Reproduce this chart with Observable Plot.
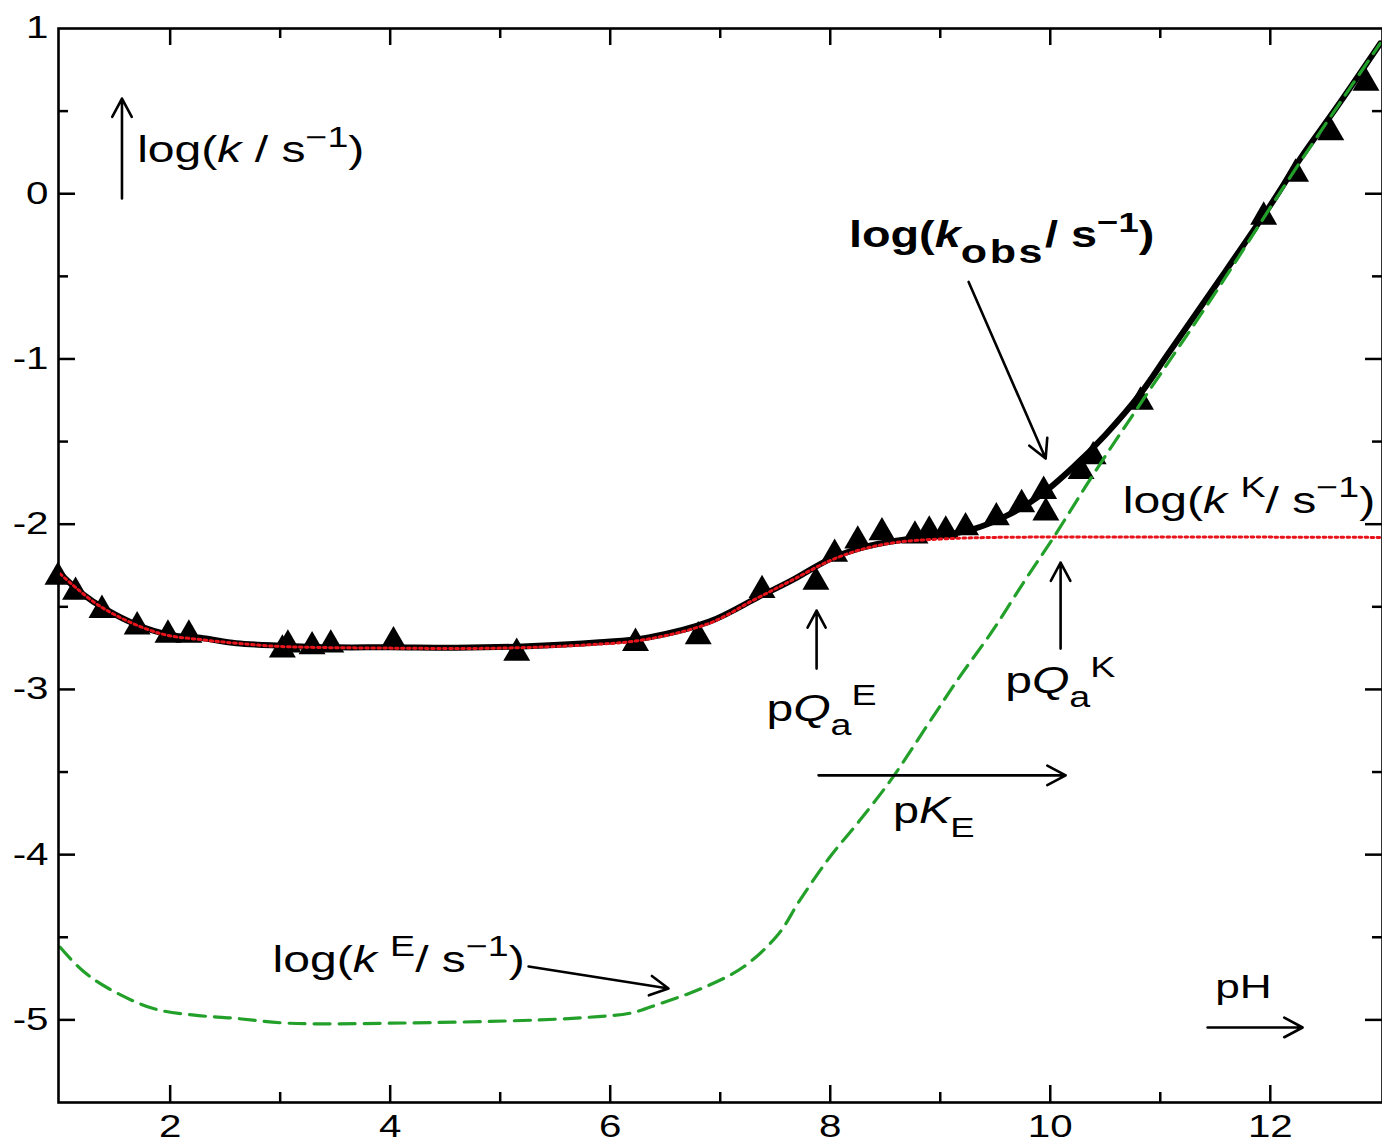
<!DOCTYPE html>
<html><head><meta charset="utf-8">
<script src="https://cdn.jsdelivr.net/npm/d3@7"></script>
<script src="https://cdn.jsdelivr.net/npm/@observablehq/plot@0.6"></script>
<style>html,body{margin:0;padding:0;background:#fff}</style>
</head><body><div id="chart"></div>
<script>
// ---------- data ----------
const obsPH   = [0.98,1.14,1.38,1.70,1.98,2.17,3.02,3.07,3.29,3.46,4.03,5.15,6.23,6.80,7.38,7.87,8.04,8.25,8.47,8.77,8.90,9.05,9.23,9.51,9.74,9.94,9.96,10.28,10.39,10.82,11.94,12.23,12.55,12.87];
const obsLogK = [-2.32,-2.41,-2.52,-2.62,-2.67,-2.67,-2.76,-2.73,-2.74,-2.73,-2.71,-2.78,-2.72,-2.68,-2.40,-2.35,-2.18,-2.10,-2.05,-2.07,-2.04,-2.04,-2.02,-1.96,-1.88,-1.80,-1.93,-1.68,-1.59,-1.26,-0.14,0.12,0.37,0.67];

const fitPH   = [1.0,1.2,1.4,1.7,2.0,2.3,2.6,3.0,3.5,4.0,4.6,5.2,5.9,6.35,6.9,7.35,7.65,8.0,8.3,8.6,9.0,9.3,9.6,9.9,10.2,10.5,10.82,11.07,11.55,12.0,12.28,12.6,13.0];
const fitLogK = [-2.30,-2.42,-2.51,-2.61,-2.67,-2.69,-2.72,-2.735,-2.745,-2.745,-2.748,-2.74,-2.715,-2.685,-2.59,-2.44,-2.34,-2.21,-2.14,-2.10,-2.07,-2.03,-1.95,-1.83,-1.66,-1.46,-1.21,-0.97,-0.51,-0.07,0.22,0.52,0.91];

const kkPH   = [1.0,1.37,1.9,2.3,2.6,3.0,4.0,5.0,5.8,6.3,6.9,7.3,7.65,8.0,8.3,8.6,9.0,9.5,13.0];
const kkLogK = [-2.30,-2.50,-2.66,-2.70,-2.72,-2.74,-2.75,-2.75,-2.73,-2.70,-2.60,-2.46,-2.34,-2.22,-2.15,-2.11,-2.09,-2.08,-2.08];

const kePH   = [1.0,1.2,1.44,1.84,2.2,2.58,3.07,4.0,5.36,5.89,6.18,6.46,6.83,7.21,7.53,7.72,7.99,8.26,8.56,8.87,9.17,9.47,9.77,10.03,10.4,10.82,11.5,12.2,13.0];
const keLogK = [-4.56,-4.70,-4.81,-4.93,-4.97,-4.99,-5.02,-5.02,-5.00,-4.98,-4.96,-4.90,-4.81,-4.68,-4.48,-4.28,-4.02,-3.80,-3.54,-3.23,-2.93,-2.65,-2.34,-2.08,-1.69,-1.27,-0.60,0.12,0.91];

const xMajorTicks = [2,4,6,8,10,12];
const xMinorTicks = [3,5,7,9,11];
const yMajorTicks = [-5,-4,-3,-2,-1,0];
const yMinorTicks = [-4.5,-3.5,-2.5,-1.5,-0.5,0.5];
const xTickLabels = [2,4,6,8,10,12];
const yTickLabels = [1,0,-1,-2,-3,-4,-5];

// annotation texts (plain form + rich parts)
const labelIds   = ["axis","kobs","kK","pQaE","pQaK","pKE","kE","pH"];
const labelText  = ["log(k / s−1)","log(kobs/ s−1)","log(k K/ s−1)","pQaE","pQaK","pKE","log(k E/ s−1)","pH"];
const labelPH    = [1.70, 8.17, 10.66, 7.42, 9.59, 8.57, 2.93, 11.50];
const labelLogK  = [0.19, -0.324, -1.93, -3.19, -3.02, -3.81, -4.71, -4.865];
const labelParts = {
  axis: [["log("],["k","i"],[" / s"],["−1","sup"],[")"]],
  kobs: [["log("],["k","i"],["obs","subL"],["/ s"],["−1","sup"],[")"]],
  kK:   [["log("],["k","i"],[" "],["K","sup"],["/ s"],["−1","sup"],[")"]],
  pQaE: [["p"],["Q","i"],["a","sub"],["E","sup"]],
  pQaK: [["p"],["Q","i"],["a","sub"],["K","sup"]],
  pKE:  [["p"],["K","i"],["E","sub"]],
  kE:   [["log("],["k","i"],[" "],["E","sup"],["/ s"],["−1","sup"],[")"]],
  pH:   null
};

// annotation arrows (from -> to)
const arrowX1 = [1.562, 9.258, 7.876, 10.094, 7.894, 5.258, 11.43];
const arrowY1 = [-0.029, -0.534, -2.874, -2.753, -3.520, -4.677, -5.046];
const arrowX2 = [1.562, 9.958, 7.876, 10.094, 10.14, 6.530, 12.294];
const arrowY2 = [0.576, -1.603, -2.523, -2.232, -3.520, -4.810, -5.046];

// ---------- styles / layout ----------
const W = 1382, H = 1146, ML = 58, MR = 0, MT = 28, MB = 44;
const PW = W - ML - MR, PHt = H - MT - MB;
const SX = 1.3; // horizontal glyph stretch of the reference lettering
const FONT = "'Liberation Sans', Arial, Helvetica, sans-serif";
const labelStyle = {axis:{size:37}, kobs:{size:36,bold:true}, kK:{size:37}, pQaE:{size:37}, pQaK:{size:37}, pKE:{size:36}, kE:{size:37}, pH:{size:34}};

// ---------- tables ----------
const obs = obsPH.map((p,i)=>({pH:p, v:obsLogK[i]}));
const fit = fitPH.map((p,i)=>({pH:p, v:fitLogK[i]}));
const kk  = kkPH.map((p,i)=>({pH:p, v:kkLogK[i]}));
const ke  = kePH.map((p,i)=>({pH:p, v:keLogK[i]}));
const labels = labelIds.map((id,i)=>({id, text:labelText[i], pH:labelPH[i], v:labelLogK[i]}));
const arrows = arrowX1.map((x,i)=>({x1:x, y1:arrowY1[i], x2:arrowX2[i], y2:arrowY2[i]}));

const tickStyle = {stroke:"black", strokeWidth:2.5};

const svg = Plot.plot({
  width: W, height: H,
  marginLeft: ML, marginRight: MR, marginTop: MT, marginBottom: MB,
  style: {fontFamily: FONT, background: "white", color: "black"},
  x: {domain: [0.985, 13.02]},
  y: {domain: [-5.5, 1.0]},
  marks: [
    Plot.line(fit, {x:"pH", y:"v", stroke:"black", strokeWidth:6, curve:"catmull-rom"}),
    Plot.dot(obs, {x:"pH", y:"v", symbol:"triangle", r:10, fill:"black", stroke:"none"}),
    Plot.line(kk, {x:"pH", y:"v", stroke:"#e8141c", strokeWidth:3, strokeDasharray:"2.6,3.4", curve:"catmull-rom"}),
    Plot.line(ke, {x:"pH", y:"v", stroke:"#22a02a", strokeWidth:3.2, strokeDasharray:"16,9", curve:"catmull-rom"}),
    // inward ticks
    Plot.tickX(xMajorTicks, {x:d=>d, ...tickStyle, insetTop: PHt-17}),
    Plot.tickX(xMinorTicks, {x:d=>d, ...tickStyle, insetTop: PHt-10}),
    Plot.tickX(xMajorTicks, {x:d=>d, ...tickStyle, insetBottom: PHt-17}),
    Plot.tickX(xMinorTicks, {x:d=>d, ...tickStyle, insetBottom: PHt-10}),
    Plot.tickY(yMajorTicks, {y:d=>d, ...tickStyle, insetRight: PW-17}),
    Plot.tickY(yMinorTicks, {y:d=>d, ...tickStyle, insetRight: PW-10}),
    Plot.tickY(yMajorTicks, {y:d=>d, ...tickStyle, insetLeft: PW-17}),
    Plot.tickY(yMinorTicks, {y:d=>d, ...tickStyle, insetLeft: PW-10}),
    Plot.frame({stroke:"black", strokeWidth:2.6}),
    Plot.axisX(xTickLabels, {anchor:"bottom", tickSize:0, tickPadding:12, fontSize:31, tickFormat:d=>String(d), label:null}),
    Plot.axisY(yTickLabels, {anchor:"left", tickSize:0, tickPadding:10, fontSize:31, tickFormat:d=>String(d), label:null}),
    Plot.arrow(arrows, {x1:"x1", y1:"y1", x2:"x2", y2:"y2", stroke:"black", strokeWidth:2.6, headLength:12, headAngle:56}),
    Plot.text(labels.filter(d=>!labelStyle[d.id].bold), {x:"pH", y:"v", text:"text", textAnchor:"start", lineAnchor:"bottom", fontSize:d=>labelStyle[d.id].size, fill:"black"}),
    Plot.text(labels.filter(d=>labelStyle[d.id].bold), {x:"pH", y:"v", text:"text", textAnchor:"start", lineAnchor:"bottom", fontSize:d=>labelStyle[d.id].size, fontWeight:"bold", fill:"black"})
  ]
});

// ---------- rich text (italic / sub / superscript) ----------
function richMarkup(parts, F) {
  let cur = 0, html = "";
  for (const [txt, style = ""] of parts) {
    let off = 0, size = F, attrs = "";
    if (style === "i") attrs += ' font-style="italic"';
    if (style === "sup") { off = -0.42 * F; size = 0.78 * F; }
    if (style === "sub") { off = 0.38 * F; size = 0.78 * F; }
    if (style === "subL") { off = 0.45 * F; size = 0.92 * F; attrs += ' letter-spacing="2"'; }
    const dy = off - cur; cur = off;
    html += `<tspan dy="${dy.toFixed(2)}" font-size="${size.toFixed(1)}"${attrs}>${txt}</tspan>`;
  }
  return html;
}
const byText = new Map(labels.map(d => [d.text, d]));
svg.querySelectorAll("text").forEach(t => {
  const d = byText.get(t.textContent);
  if (d && labelParts[d.id]) {
    t.style.whiteSpace = "pre";
    t.innerHTML = richMarkup(labelParts[d.id], labelStyle[d.id].size);
  }
  const tr = t.getAttribute("transform");
  if (tr) t.setAttribute("transform", tr + ` scale(${SX},1)`);
});
document.getElementById("chart").appendChild(svg);
</script></body></html>
